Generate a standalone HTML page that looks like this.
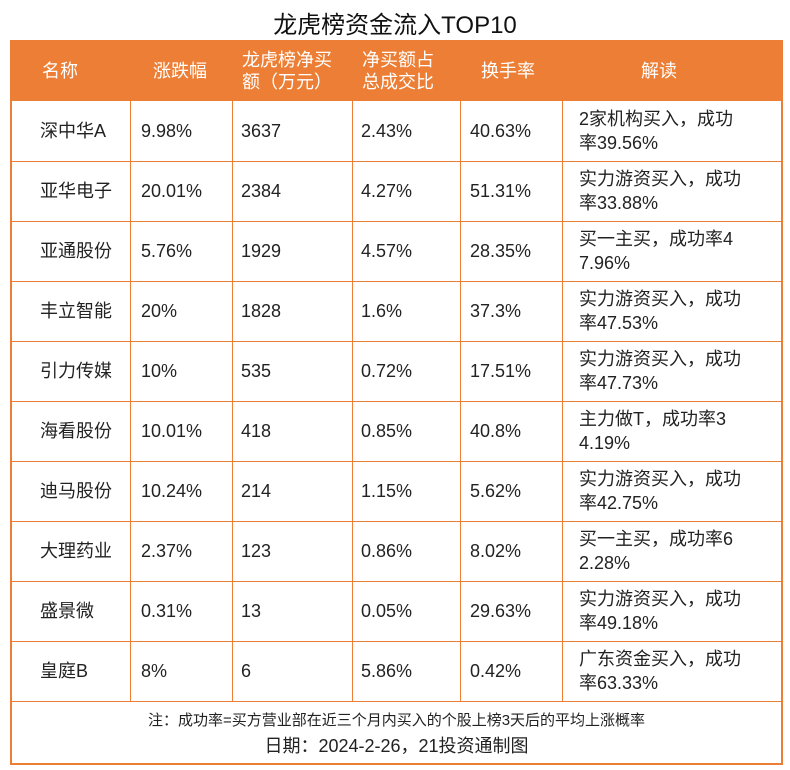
<!DOCTYPE html>
<html><head><meta charset="utf-8"><style>
body{margin:0;width:790px;height:770px;background:#fff;font-family:"Liberation Sans","Noto Sans CJK SC",sans-serif;position:relative;overflow:hidden}
.t{position:absolute;white-space:nowrap}
#title{left:0;width:790px;text-align:center;top:5px;font-size:24px;color:#111}
#tbl{position:absolute;left:10px;top:40px;width:769px;height:721px;border:2px solid #ec7f35;box-sizing:content-box}
#hdr{position:absolute;left:0;top:0;width:769px;height:59px;background:#ec7f35}
.h{color:#fff;font-size:18px;line-height:22px}
.c{font-size:18px;color:#222;line-height:24px}
.vl{position:absolute;width:1px;background:#ec7f35;top:59px;height:600px}
.hl{position:absolute;left:0;width:769px;height:1px;background:#ec7f35}
.ft{font-size:15px;color:#222;left:0;width:769px;text-align:center}
</style></head><body>
<div class="t" id="title">龙虎榜资金流入TOP10</div>
<div id="tbl">
<div id="hdr">
<div class="t h" style="left:30px;top:18px">名称</div>
<div class="t h" style="left:141px;top:18px">涨跌幅</div>
<div class="t h" style="left:230px;top:7px">龙虎榜净买<br>额（万元）</div>
<div class="t h" style="left:350px;top:7px">净买额占<br>总成交比</div>
<div class="t h" style="left:469px;top:18px">换手率</div>
<div class="t h" style="left:629px;top:18px">解读</div>
</div>
<div class="t ft" style="top:667px">注：成功率=买方营业部在近三个月内买入的个股上榜3天后的平均上涨概率</div>
<div class="t ft" style="top:690px;font-size:18px">日期：2024-2-26，21投资通制图</div>
</div>
<script>
const names=["深中华A","亚华电子","亚通股份","丰立智能","引力传媒","海看股份","迪马股份","大理药业","盛景微","皇庭B"];
const changes=["9.98%","20.01%","5.76%","20%","10%","10.01%","10.24%","2.37%","0.31%","8%"];
const netBuy=["3637","2384","1929","1828","535","418","214","123","13","6"];
const ratios=["2.43%","4.27%","4.57%","1.6%","0.72%","0.85%","1.15%","0.86%","0.05%","5.86%"];
const turnover=["40.63%","51.31%","28.35%","37.3%","17.51%","40.8%","5.62%","8.02%","29.63%","0.42%"];
const notes1=["2家机构买入，成功","实力游资买入，成功","买一主买，成功率4","实力游资买入，成功","实力游资买入，成功","主力做T，成功率3","实力游资买入，成功","买一主买，成功率6","实力游资买入，成功","广东资金买入，成功"];
const notes2=["率39.56%","率33.88%","7.96%","率47.53%","率47.73%","4.19%","率42.75%","2.28%","率49.18%","率63.33%"];
const tbl=document.getElementById('tbl');
const xs=[118,220,340,448,550];
xs.forEach(x=>{const v=document.createElement('div');v.className='vl';v.style.left=x+'px';


tbl.appendChild(v);});
const cols=[[names,28],[changes,129],[netBuy,229],[ratios,349],[turnover,458]];
for(let i=0;i<names.length;i++){
 const y=59+i*60;
 const hl=document.createElement('div');hl.className='hl';hl.style.top=(y+60)+'px';
 
 
 tbl.appendChild(hl);
 cols.forEach(([arr,x],j)=>{const d=document.createElement('div');d.className='t c';d.style.left=x+'px';d.style.top=(y+18)+'px';d.textContent=arr[i];
 
 
 tbl.appendChild(d);});
 const n=document.createElement('div');n.className='t c';n.style.left='567px';n.style.top=(y+6)+'px';n.innerHTML=notes1[i]+'<br>'+notes2[i];
 
 
 tbl.appendChild(n);
}
</script>
</body></html>
